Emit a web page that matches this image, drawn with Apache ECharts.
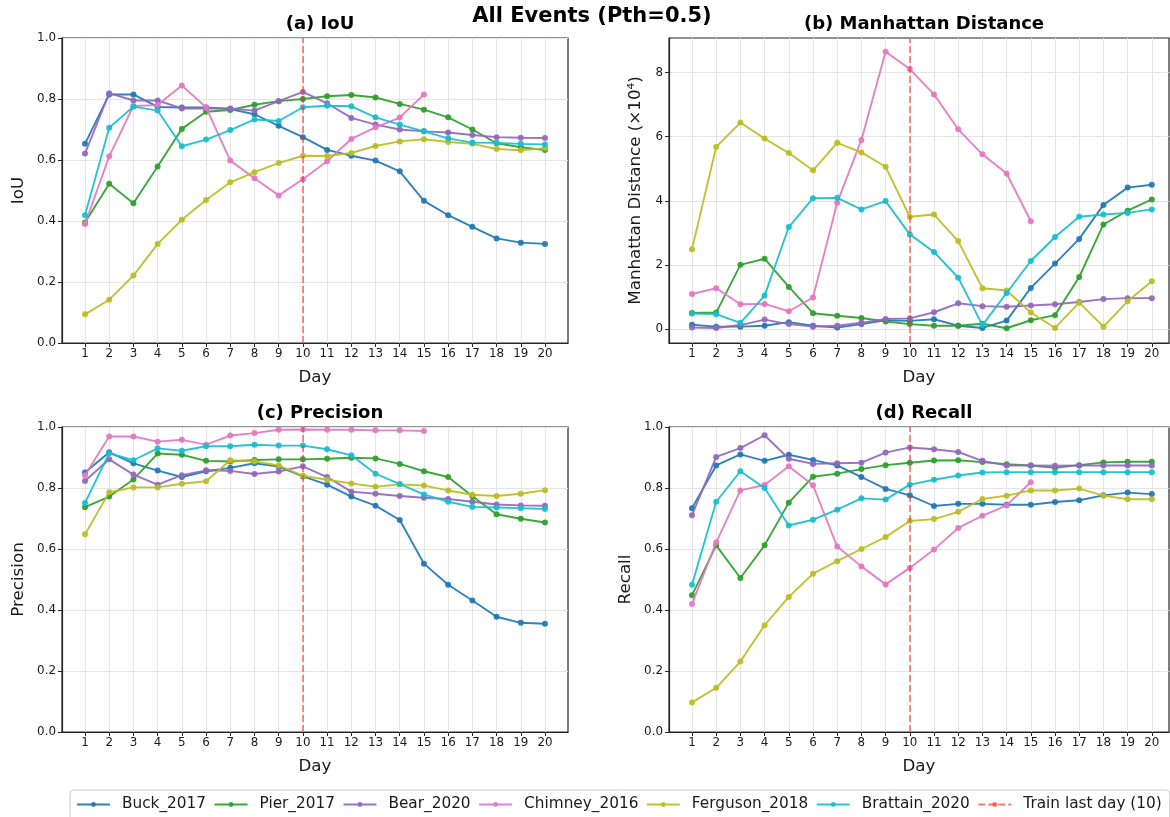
<!DOCTYPE html>
<html>
<head>
<meta charset="utf-8">
<title>All Events (Pth=0.5)</title>
<script src="https://cdn.jsdelivr.net/npm/echarts@6/dist/echarts.min.js"></script>
<style>
  html, body { margin: 0; padding: 0; background: #fff; }
  #chart { width: 1170px; height: 817px; }
</style>
</head>
<body>
<div id="chart"></div>
<script>
// Day index shared by all four panels
const days = [1, 2, 3, 4, 5, 6, 7, 8, 9, 10, 11, 12, 13, 14, 15, 16, 17, 18, 19, 20];

const eventNames = ['Buck_2017', 'Pier_2017', 'Bear_2020', 'Chimney_2016', 'Ferguson_2018', 'Brattain_2020'];
const eventColors = ['#1f77b4', '#2ca02c', '#9467bd', '#e377c2', '#bcbd22', '#17becf'];
const trainLabel = 'Train last day (10)';
const trainDay = 10;

// (a) IoU
const iouBuck     = [0.653, 0.815, 0.815, 0.774, 0.772, 0.772, 0.767, 0.750, 0.712, 0.675, 0.633, 0.614, 0.598, 0.563, 0.466, 0.419, 0.381, 0.343, 0.329, 0.325];
const iouPier     = [0.395, 0.522, 0.458, 0.579, 0.702, 0.758, 0.764, 0.781, 0.793, 0.800, 0.809, 0.813, 0.805, 0.784, 0.765, 0.740, 0.700, 0.655, 0.642, 0.633];
const iouBear     = [0.621, 0.819, 0.795, 0.795, 0.769, 0.769, 0.769, 0.762, 0.793, 0.823, 0.786, 0.738, 0.716, 0.700, 0.694, 0.690, 0.682, 0.675, 0.673, 0.672];
const iouChimney  = [0.390, 0.612, 0.777, 0.780, 0.844, 0.773, 0.598, 0.540, 0.484, 0.537, 0.596, 0.669, 0.707, 0.739, 0.815];
const iouFerguson = [0.094, 0.142, 0.221, 0.325, 0.404, 0.469, 0.527, 0.560, 0.590, 0.614, 0.613, 0.623, 0.646, 0.661, 0.668, 0.659, 0.653, 0.636, 0.632, 0.639];
const iouBrattain = [0.419, 0.706, 0.775, 0.762, 0.645, 0.667, 0.698, 0.733, 0.728, 0.773, 0.778, 0.776, 0.740, 0.716, 0.694, 0.671, 0.657, 0.656, 0.653, 0.651];

// (b) Manhattan distance, in units of 10^4
const mdBuck     = [0.13, 0.07, 0.07, 0.10, 0.21, 0.10, 0.04, 0.15, 0.27, 0.25, 0.30, 0.10, 0.03, 0.26, 1.28, 2.04, 2.81, 3.87, 4.41, 4.50];
const mdPier     = [0.50, 0.51, 2.00, 2.19, 1.31, 0.49, 0.41, 0.34, 0.23, 0.15, 0.10, 0.10, 0.16, 0.02, 0.27, 0.43, 1.62, 3.26, 3.69, 4.04];
const mdBear     = [0.04, 0.03, 0.12, 0.29, 0.15, 0.07, 0.10, 0.19, 0.31, 0.33, 0.52, 0.80, 0.71, 0.69, 0.73, 0.77, 0.84, 0.93, 0.96, 0.96];
const mdChimney  = [1.09, 1.27, 0.77, 0.78, 0.55, 0.98, 3.94, 5.90, 8.65, 8.11, 7.32, 6.23, 5.45, 4.85, 3.36];
const mdFerguson = [2.49, 5.68, 6.44, 5.94, 5.49, 4.95, 5.81, 5.51, 5.06, 3.50, 3.57, 2.74, 1.27, 1.20, 0.51, 0.03, 0.82, 0.07, 0.86, 1.49];
const mdBrattain = [0.48, 0.46, 0.19, 1.04, 3.18, 4.08, 4.09, 3.73, 3.99, 2.95, 2.40, 1.60, 0.12, 1.12, 2.12, 2.87, 3.50, 3.57, 3.62, 3.73];

// (c) Precision
const precBuck     = [0.851, 0.917, 0.881, 0.857, 0.836, 0.855, 0.866, 0.881, 0.870, 0.838, 0.811, 0.772, 0.742, 0.695, 0.552, 0.483, 0.431, 0.378, 0.358, 0.355];
const precPier     = [0.737, 0.772, 0.828, 0.913, 0.909, 0.889, 0.887, 0.892, 0.894, 0.894, 0.896, 0.899, 0.897, 0.879, 0.855, 0.836, 0.773, 0.714, 0.699, 0.687];
const precBear     = [0.823, 0.894, 0.844, 0.811, 0.842, 0.858, 0.856, 0.846, 0.854, 0.871, 0.836, 0.788, 0.781, 0.774, 0.768, 0.764, 0.755, 0.746, 0.743, 0.742];
const precChimney  = [0.842, 0.969, 0.969, 0.952, 0.958, 0.942, 0.972, 0.980, 0.991, 0.992, 0.991, 0.991, 0.989, 0.989, 0.987];
const precFerguson = [0.648, 0.786, 0.802, 0.802, 0.814, 0.822, 0.891, 0.887, 0.874, 0.840, 0.827, 0.815, 0.804, 0.812, 0.808, 0.792, 0.778, 0.774, 0.781, 0.793];
const precBrattain = [0.751, 0.914, 0.891, 0.930, 0.922, 0.937, 0.937, 0.942, 0.939, 0.939, 0.927, 0.907, 0.847, 0.813, 0.779, 0.755, 0.738, 0.736, 0.734, 0.731];

// (d) Recall
const recBuck     = [0.734, 0.874, 0.910, 0.889, 0.909, 0.892, 0.874, 0.836, 0.797, 0.776, 0.741, 0.748, 0.748, 0.745, 0.745, 0.754, 0.760, 0.776, 0.785, 0.780];
const recPier     = [0.448, 0.612, 0.505, 0.612, 0.752, 0.837, 0.847, 0.862, 0.875, 0.883, 0.890, 0.891, 0.885, 0.878, 0.874, 0.866, 0.875, 0.884, 0.886, 0.886];
const recBear     = [0.711, 0.902, 0.931, 0.973, 0.896, 0.879, 0.881, 0.883, 0.916, 0.933, 0.927, 0.918, 0.889, 0.874, 0.874, 0.873, 0.874, 0.874, 0.874, 0.874];
const recChimney  = [0.420, 0.622, 0.792, 0.810, 0.871, 0.809, 0.608, 0.543, 0.484, 0.538, 0.598, 0.669, 0.709, 0.743, 0.819];
const recFerguson = [0.097, 0.145, 0.231, 0.350, 0.443, 0.519, 0.560, 0.600, 0.639, 0.692, 0.698, 0.722, 0.764, 0.775, 0.792, 0.792, 0.798, 0.775, 0.763, 0.763];
const recBrattain = [0.483, 0.755, 0.855, 0.800, 0.677, 0.696, 0.729, 0.766, 0.762, 0.811, 0.827, 0.841, 0.851, 0.852, 0.852, 0.852, 0.852, 0.852, 0.852, 0.852];

// Tick labels
const dayTicks = days;
const unitTicks = [0, 0.2, 0.4, 0.6, 0.8, 1.0];
const mdTicks = [0, 2, 4, 6, 8];

const leftGrid  = { width: 506, height: 305 };
const rightGrid = { width: 500, height: 305 };

const panels = [
  { title: '(a) IoU', yName: 'IoU', series: [iouBuck, iouPier, iouBear, iouChimney, iouFerguson, iouBrattain],
    grid: Object.assign({ left: 62, top: 38 }, leftGrid), xMax: 20.95,
    yMin: 0, yMax: 1, yTicks: unitTicks, fmt: v => v.toFixed(1), nameGap: 35 },
  { title: '(b) Manhattan Distance', yName: 'Manhattan Distance (×10⁴)', series: [mdBuck, mdPier, mdBear, mdChimney, mdFerguson, mdBrattain],
    grid: Object.assign({ left: 669, top: 38 }, rightGrid), xMax: 20.71,
    yMin: -0.44, yMax: 9.08, yTicks: mdTicks, fmt: v => String(v), nameGap: 25 },
  { title: '(c) Precision', yName: 'Precision', series: [precBuck, precPier, precBear, precChimney, precFerguson, precBrattain],
    grid: Object.assign({ left: 62, top: 427 }, leftGrid), xMax: 20.95,
    yMin: 0, yMax: 1, yTicks: unitTicks, fmt: v => v.toFixed(1), nameGap: 35 },
  { title: '(d) Recall', yName: 'Recall', series: [recBuck, recPier, recBear, recChimney, recFerguson, recBrattain],
    grid: Object.assign({ left: 669, top: 427 }, rightGrid), xMax: 20.71,
    yMin: 0, yMax: 1, yTicks: unitTicks, fmt: v => v.toFixed(1), nameGap: 35 }
];

const FONT = 'DejaVu Sans';
const TEXT = '#1a1a1a';
const SPINE = '#262626';
const GRIDLINE = '#e5e5e5';
const RED = 'rgba(255, 40, 40, 0.65)';

const titles = [{
  text: 'All Events (Pth=0.5)', left: 587, top: 1, textAlign: 'center',
  textStyle: { fontFamily: FONT, fontSize: 21, fontWeight: 'bold', color: '#000' }
}];
const grids = [], xAxes = [], yAxes = [], series = [];

panels.forEach((p, gi) => {
  titles.push({
    text: p.title, left: p.grid.left + p.grid.width / 2, top: p.grid.top - 28, textAlign: 'center',
    textStyle: { fontFamily: FONT, fontSize: 18, fontWeight: 'bold', color: '#000' }
  });
  grids.push(Object.assign({ show: true, borderColor: SPINE, borderWidth: 1.2, backgroundColor: 'transparent' }, p.grid));
  xAxes.push({
    gridIndex: gi, type: 'value', min: 0.05, max: p.xMax,
    name: 'Day', nameLocation: 'middle', nameGap: 26,
    nameTextStyle: { fontFamily: FONT, fontSize: 16.7, color: TEXT },
    axisLine: { show: true, onZero: false, lineStyle: { color: SPINE, width: 1.2 } },
    axisTick: { show: true, length: 4, lineStyle: { color: SPINE }, customValues: dayTicks },
    axisLabel: { fontFamily: FONT, fontSize: 11.9, color: TEXT, margin: 5, customValues: dayTicks },
    splitLine: { show: true, lineStyle: { color: GRIDLINE, width: 1 } }
  });
  yAxes.push({
    gridIndex: gi, type: 'value', min: p.yMin, max: p.yMax,
    name: p.yName, nameLocation: 'middle', nameGap: p.nameGap, nameRotate: 90,
    nameTextStyle: { fontFamily: FONT, fontSize: 16.7, color: TEXT },
    axisLine: { show: true, onZero: false, lineStyle: { color: SPINE, width: 1.2 } },
    axisTick: { show: true, length: 4, lineStyle: { color: SPINE }, customValues: p.yTicks },
    axisLabel: { fontFamily: FONT, fontSize: 11.9, color: TEXT, margin: 6, customValues: p.yTicks, formatter: p.fmt },
    splitLine: { show: true, lineStyle: { color: GRIDLINE, width: 1 } }
  });
  p.series.forEach((vals, si) => {
    series.push({
      type: 'line', name: eventNames[si], xAxisIndex: gi, yAxisIndex: gi,
      data: vals.map((v, i) => [days[i], v]),
      symbol: 'circle', symbolSize: 6, showSymbol: true,
      lineStyle: { color: eventColors[si], width: 1.9, opacity: 0.92 },
      itemStyle: { color: eventColors[si], opacity: 0.92 },
      emphasis: { disabled: true }, animation: false, z: 2 + si
    });
  });
  // vertical marker for the last training day
  series.push({
    type: 'line', name: trainLabel, xAxisIndex: gi, yAxisIndex: gi, data: [],
    symbol: 'none', lineStyle: { color: RED, width: 1.6, type: [7, 3] }, itemStyle: { color: RED },
    markLine: {
      silent: true, symbol: 'none', animation: false, z: 20,
      label: { show: false },
      lineStyle: { color: RED, width: 1.6, type: [7, 3] },
      data: [{ xAxis: trainDay }]
    },
    animation: false, z: 20
  });
});

const chart = echarts.init(document.getElementById('chart'), null, { renderer: 'canvas' });
chart.setOption({
  backgroundColor: '#fff',
  animation: false,
  title: titles,
  grid: grids,
  xAxis: xAxes,
  yAxis: yAxes,
  legend: {
    data: eventNames.concat([trainLabel]),
    left: 70, top: 790,
    orient: 'horizontal',
    itemWidth: 33, itemHeight: 6, itemGap: 7.5,
    padding: [7, 8, 9, 6],
    borderColor: '#cccccc', borderWidth: 1, borderRadius: 4,
    backgroundColor: '#fff',
    textStyle: { fontFamily: FONT, fontSize: 15.3, color: TEXT, padding: [0, 0, 0, 7] }
  },
  series: series
});
</script>
</body>
</html>
